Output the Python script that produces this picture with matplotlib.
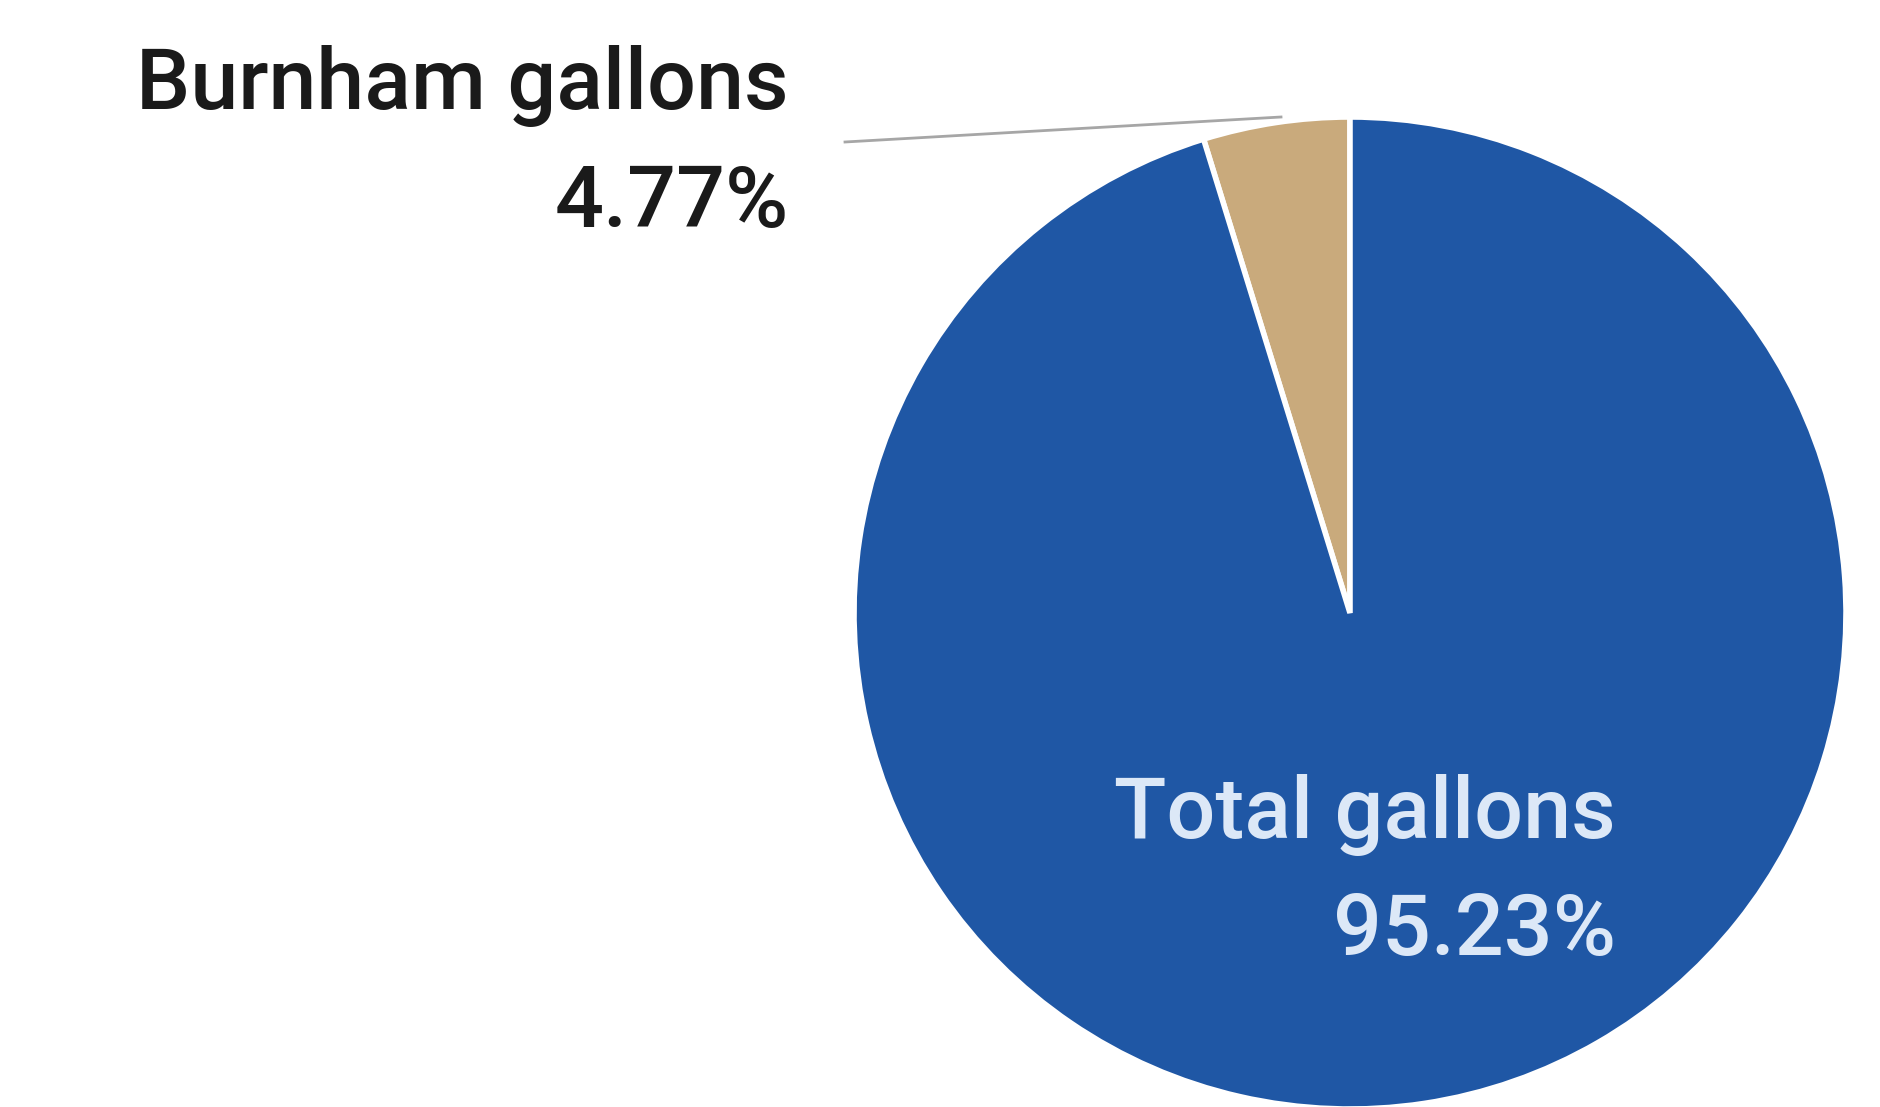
import matplotlib
matplotlib.use('Agg')
import matplotlib.pyplot as plt

labels = ["Burnham gallons", "Total gallons"]
shares = [4.77, 95.23]
colors = ["#C9AA7C", "#1F57A5"]

plt.rcParams['font.family'] = ['Roboto', 'DejaVu Sans']

W, H = 1880, 1107
fig = plt.figure(figsize=(W / 100, H / 100), dpi=100)
ax = fig.add_axes([0, 0, 1, 1])

cx, cy, r = 1350, H - 613, 496
wedges, _ = ax.pie(shares, colors=colors, startangle=90, counterclock=True,
                   center=(cx, cy), radius=r, frame=True,
                   wedgeprops={'linewidth': 4, 'edgecolor': 'white'})
ax.set_xlim(0, W)
ax.set_ylim(0, H)
ax.set_aspect('equal')
ax.axis('off')

# leader line for the small slice
ax.plot([845, 1281], [H - 142, H - 117], color='#a6a6a6', linewidth=2)

txt = dict(ha='right', va='center', fontsize=62, fontweight='medium')
ax.text(789, H - 86, labels[0], color='#1a1a1a', **txt)
ax.text(789, H - 203, f"{shares[0]:.2f}%", color='#1a1a1a', **txt)

ax.text(1616, H - 815, labels[1], color='#dce8f7', **txt)
ax.text(1616, H - 931, f"{shares[1]:.2f}%", color='#dce8f7', **txt)

fig.savefig('out.png', dpi=100)
